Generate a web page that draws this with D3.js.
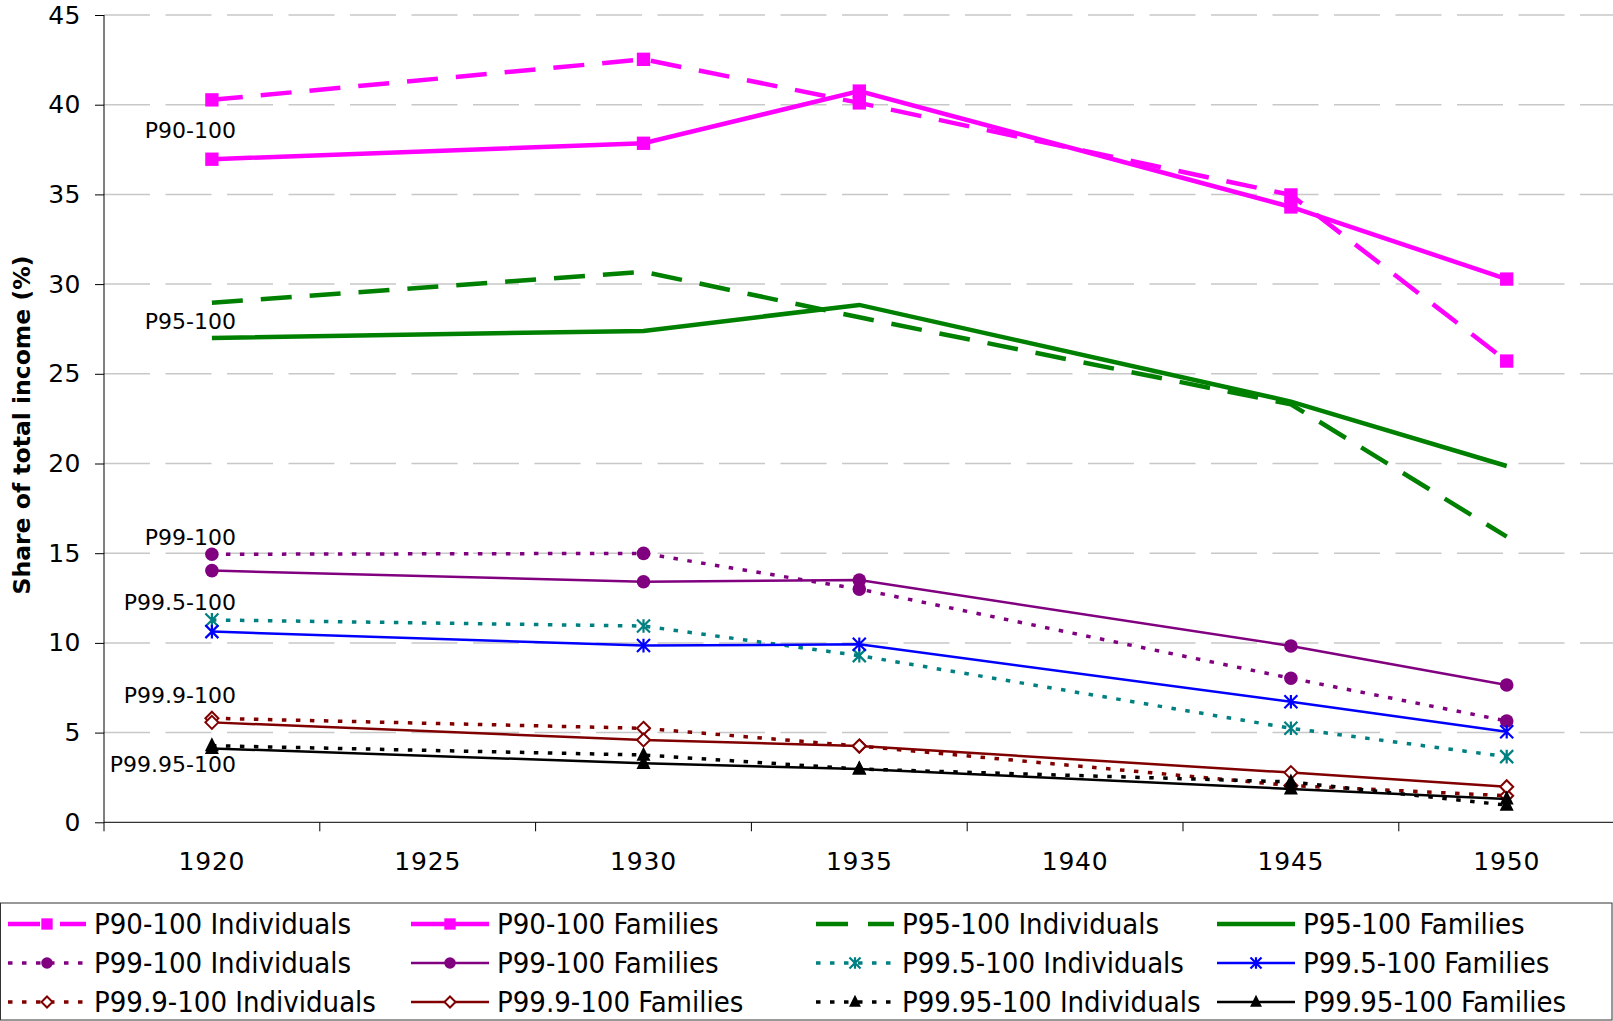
<!DOCTYPE html>
<html>
<head>
<meta charset="utf-8">
<script src="https://cdn.jsdelivr.net/npm/d3@7"></script>
<style>
  html, body { margin: 0; padding: 0; background: #fff; }
  svg { display: block; }
</style>
</head>
<body>
<svg id="chart" width="1613" height="1021"></svg>
<script>
// ---------- DATA ----------
const categories = ["1920", "1925", "1930", "1935", "1940", "1945", "1950"];
const dataYears  = ["1920", "1930", "1935", "1945", "1950"];
const yTicks = [0, 5, 10, 15, 20, 25, 30, 35, 40, 45];

const p90Individuals   = [40.27, 42.53, 40.10, 34.97, 25.71];
const p90Families      = [36.96, 37.85, 40.76, 34.30, 30.28];
const p95Individuals   = [28.96, 30.69, 28.15, 23.30, 15.92];
const p95Families      = [27.00, 27.39, 28.84, 23.45, 19.86];
const p99Individuals   = [14.94, 14.99, 13.00, 8.03, 5.65];
const p99Families      = [14.03, 13.41, 13.50, 9.83, 7.65];
const p995Individuals  = [11.28, 10.94, 9.29, 5.24, 3.66];
const p995Families     = [10.63, 9.85, 9.92, 6.72, 5.05];
const p999Individuals  = [5.80, 5.24, 4.25, 2.05, 1.48];
const p999Families     = [5.57, 4.59, 4.25, 2.77, 1.98];
const p9995Individuals = [4.27, 3.75, 2.97, 2.25, 0.96];
const p9995Families    = [4.12, 3.29, 2.97, 1.86, 1.30];

const seriesNames = [
  "P90-100 Individuals", "P90-100 Families", "P95-100 Individuals", "P95-100 Families",
  "P99-100 Individuals", "P99-100 Families", "P99.5-100 Individuals", "P99.5-100 Families",
  "P99.9-100 Individuals", "P99.9-100 Families", "P99.95-100 Individuals", "P99.95-100 Families"
];
const seriesValues = [
  p90Individuals, p90Families, p95Individuals, p95Families,
  p99Individuals, p99Families, p995Individuals, p995Families,
  p999Individuals, p999Families, p9995Individuals, p9995Families
];

// group annotation labels (text, value level where label sits)
const groupLabels = ["P90-100", "P95-100", "P99-100", "P99.5-100", "P99.9-100", "P99.95-100"];
const groupLabelLevels = [38.14, 27.5, 15.46, 11.84, 6.65, 2.81];

const yTitle = "Share of total income (%)";

// ---------- STYLES ----------
const styles = [
  {color: "#FF00FF", width: 4.5, dash: "31,18", marker: "square"},
  {color: "#FF00FF", width: 4.5, dash: null,    marker: "square"},
  {color: "#008000", width: 4.5, dash: "31,18", marker: null},
  {color: "#008000", width: 4.5, dash: null,    marker: null},
  {color: "#800080", width: 3.5, dash: "4.5,9.5", marker: "circle"},
  {color: "#800080", width: 2.5, dash: null,    marker: "circle"},
  {color: "#008080", width: 3.5, dash: "4.5,9.5", marker: "star"},
  {color: "#0000FF", width: 2.5, dash: null,    marker: "star"},
  {color: "#800000", width: 3.5, dash: "4.5,9.5", marker: "diamond"},
  {color: "#800000", width: 2.5, dash: null,    marker: "diamond"},
  {color: "#000000", width: 3.5, dash: "4.5,9.5", marker: "triangle"},
  {color: "#000000", width: 2.5, dash: null,    marker: "triangle"}
];

// ---------- LAYOUT ----------
const svg = d3.select("#chart");
const plotLeft = 104, plotTop = 15, plotBottom = 822.3;
const bandW = 215.8;
const x = d3.scaleBand().domain(categories).range([plotLeft, plotLeft + bandW * categories.length]).padding(0);
const y = d3.scaleLinear().domain([0, 45]).range([plotBottom, plotTop]);
const xc = c => x(c) + x.bandwidth() / 2;

// gridlines
svg.append("g").selectAll("line").data(yTicks.filter(t => t > 0)).join("line")
  .attr("x1", plotLeft).attr("x2", 1613)
  .attr("y1", d => y(d)).attr("y2", d => y(d))
  .attr("stroke", "#c8c8c8").attr("stroke-width", 1.5)
  .attr("stroke-dasharray", "46,15.5");

// y axis
const yAxis = d3.axisLeft(y).tickValues(yTicks).tickSize(9).tickPadding(14).tickFormat(d3.format("d"));
const gy = svg.append("g").attr("transform", `translate(${plotLeft},0)`).call(yAxis);
gy.select(".domain").attr("stroke", "#000").attr("d", `M0,${plotTop}V${plotBottom}`);
gy.selectAll(".tick line").attr("stroke", "#000");
gy.selectAll("text").attr("font-family", "DejaVu Sans").attr("font-size", 25).attr("fill", "#000")
  .attr("letter-spacing", 0.5);

// x axis: ticks at band boundaries, labels at centres
const gx = svg.append("g").attr("transform", `translate(0,${plotBottom})`);
gx.append("line").attr("x1", plotLeft).attr("x2", 1613).attr("y1", 0).attr("y2", 0).attr("stroke", "#000");
gx.selectAll(".tk").data(categories).join("line").attr("class", "tk")
  .attr("x1", d => x(d)).attr("x2", d => x(d)).attr("y1", 0).attr("y2", 9).attr("stroke", "#000");
gx.selectAll(".lbl").data(categories).join("text").attr("class", "lbl")
  .attr("x", d => xc(d)).attr("y", 48)
  .attr("text-anchor", "middle")
  .attr("font-family", "DejaVu Sans").attr("font-size", 25).attr("letter-spacing", 0.8)
  .text(d => d);

// y title
svg.append("text")
  .attr("transform", `translate(30,425) rotate(-90)`)
  .attr("text-anchor", "middle")
  .attr("font-family", "DejaVu Sans").attr("font-weight", "bold").attr("font-size", 23.5)
  .text(yTitle);

// ---------- MARKERS ----------
function drawMarker(g, type, color, cx, cy, scale) {
  const s = scale || 1;
  if (type === "square") {
    g.append("path").attr("d", d3.symbol(d3.symbolSquare, 178 * s * s)())
      .attr("transform", `translate(${cx},${cy})`).attr("fill", color);
  } else if (type === "circle") {
    g.append("circle").attr("cx", cx).attr("cy", cy).attr("r", 6.8 * s).attr("fill", color);
  } else if (type === "triangle") {
    const h = 14 * s, w = 14 * s;
    g.append("path").attr("d", `M${cx},${cy - h * 0.6}L${cx + w / 2},${cy + h * 0.4}L${cx - w / 2},${cy + h * 0.4}Z`)
      .attr("fill", color);
  } else if (type === "diamond") {
    const r = 6.5 * s;
    g.append("path").attr("d", `M${cx},${cy - r}L${cx + r},${cy}L${cx},${cy + r}L${cx - r},${cy}Z`)
      .attr("fill", "#fff").attr("stroke", color).attr("stroke-width", 2);
  } else if (type === "star") {
    const r = 6.5 * s;
    const d = `M${cx - r},${cy - r}L${cx + r},${cy + r}M${cx + r},${cy - r}L${cx - r},${cy + r}M${cx},${cy - r * 1.05}L${cx},${cy + r * 1.05}`;
    g.append("path").attr("d", d).attr("stroke", color).attr("stroke-width", 2.2).attr("fill", "none");
  }
}

// ---------- SERIES ----------
const line = d3.line().x((d, i) => xc(dataYears[i])).y(d => y(d));
const gSeries = svg.append("g");
seriesValues.forEach((vals, si) => {
  const st = styles[si];
  const g = gSeries.append("g");
  g.append("path").datum(vals).attr("d", line)
    .attr("fill", "none").attr("stroke", st.color).attr("stroke-width", st.width)
    .attr("stroke-dasharray", st.dash).attr("stroke-linejoin", "miter");
  if (st.marker) vals.forEach((v, i) => drawMarker(g, st.marker, st.color, xc(dataYears[i]), y(v)));
});

// group labels
svg.append("g").selectAll("text").data(groupLabels).join("text")
  .attr("x", xc("1920") + 24).attr("y", (d, i) => y(groupLabelLevels[i]))
  .attr("text-anchor", "end")
  .attr("font-family", "DejaVu Sans").attr("font-size", 22)
  .text(d => d);

// ---------- LEGEND ----------
const lg = svg.append("g");
lg.append("rect").attr("x", 0.5).attr("y", 903).attr("width", 1611.5).attr("height", 117)
  .attr("fill", "#fff").attr("stroke", "#333").attr("stroke-width", 1);
const colX = [8, 411, 816, 1217];
const rowY = [924, 963, 1002];
seriesNames.forEach((name, i) => {
  const st = styles[i];
  const cx0 = colX[i % 4], cy = rowY[Math.floor(i / 4)];
  const g = lg.append("g");
  g.append("line").attr("x1", cx0).attr("x2", cx0 + 78).attr("y1", cy).attr("y2", cy)
    .attr("stroke", st.color).attr("stroke-width", st.width)
    .attr("stroke-dasharray", st.dash ? (st.width > 4 ? "32,20" : "4.5,9.5") : null);
  if (st.marker) drawMarker(g, st.marker, st.color, cx0 + 39, cy, 0.85);
  g.append("text").attr("x", cx0 + 86).attr("y", cy).attr("dy", "0.36em")
    .attr("font-family", "DejaVu Sans Condensed").attr("font-size", 29)
    .text(name);
});
</script>
</body>
</html>
